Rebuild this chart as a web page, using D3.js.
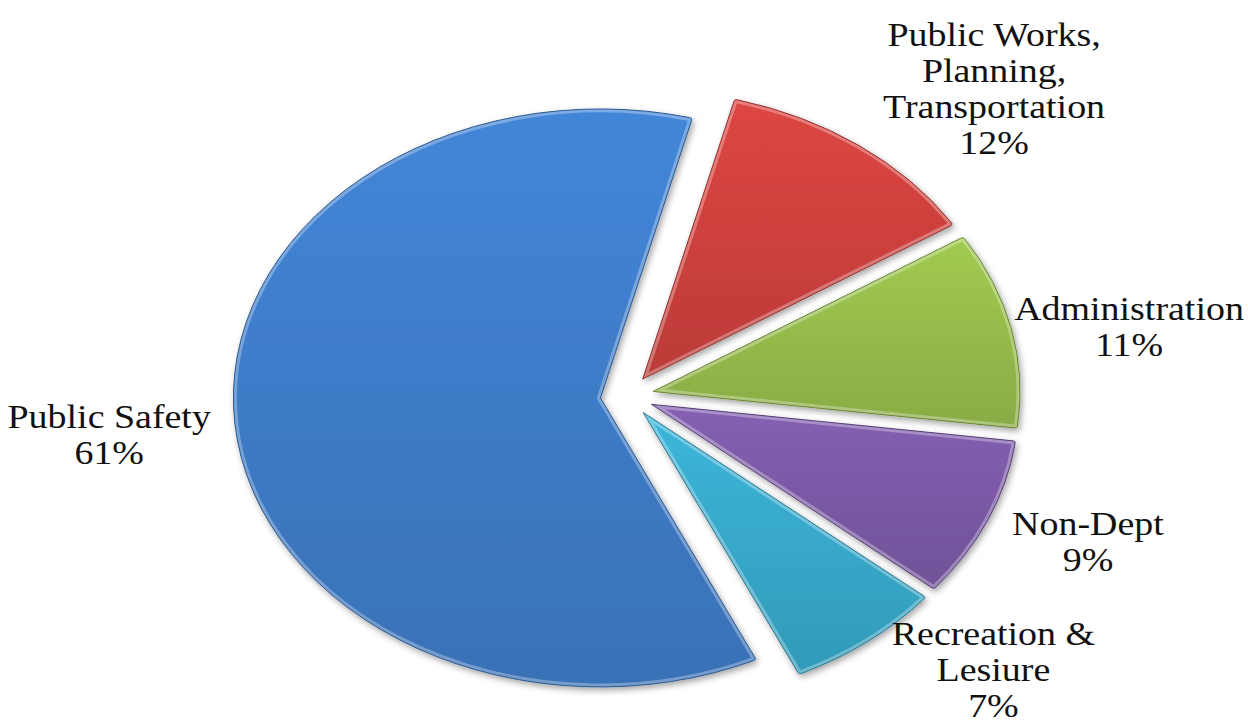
<!DOCTYPE html>
<html>
<head>
<meta charset="utf-8">
<script src="https://cdn.jsdelivr.net/npm/d3@7"></script>
<style>
  html, body { margin: 0; padding: 0; background: #fff; }
  text { font-family: "Liberation Serif", "Times New Roman", serif; fill: #111; }
</style>
</head>
<body>
<div id="chart"></div>
<script>
// chart data, in drawing order (clockwise from the top)
const categories = ["Public Works, Planning, Transportation", "Administration", "Non-Dept", "Recreation & Lesiure", "Public Safety"];
const labelLines = [["Public Works,", "Planning,", "Transportation"], ["Administration"], ["Non-Dept"], ["Recreation &", "Lesiure"], ["Public Safety"]];
const shares = [12, 11, 9, 7, 61];
const sliceColors = ["#d0423e", "#98be4c", "#7d5aa8", "#38abcd", "#3f7ecb"];

const W = 1248, H = 726;
const cx = 627, cy = 396;      // pie centre
const R = 289;                 // vertical radius
const sx = 1.27;               // horizontal stretch of the pie
const explode = 21;
const textStretch = 1.15;
const fontSize = 33, lineH = 36;
const startAngle = 14.5 * Math.PI / 180;

const svg = d3.select("#chart").append("svg")
    .attr("width", W)
    .attr("height", H);

const defs = svg.append("defs");

// soft drop shadow
const shadow = defs.append("filter")
    .attr("id", "shadow")
    .attr("x", "-20%").attr("y", "-20%")
    .attr("width", "140%").attr("height", "140%");
shadow.append("feDropShadow")
    .attr("dx", 2).attr("dy", 3)
    .attr("stdDeviation", 3)
    .attr("flood-color", "#000")
    .attr("flood-opacity", 0.35);

// vertical gradient per slice
sliceColors.forEach(function (c, i) {
  const g = defs.append("linearGradient")
      .attr("id", "grad" + i)
      .attr("x1", 0).attr("y1", 0).attr("x2", 0).attr("y2", 1);
  g.append("stop").attr("offset", "0%").attr("stop-color", d3.color(c).brighter(0.18));
  g.append("stop").attr("offset", "100%").attr("stop-color", d3.color(c).darker(0.3));
});

const pie = d3.pie()
    .sort(null)
    .value(d => d)
    .startAngle(startAngle)
    .endAngle(startAngle + 2 * Math.PI);

const arc = d3.arc()
    .innerRadius(0)
    .outerRadius(R)
    .cornerRadius(2);

const arcs = pie(shares);

const slices = svg.selectAll(".slice")
    .data(arcs)
    .enter()
    .append("g")
    .attr("class", "slice")
    .attr("filter", "url(#shadow)")
    .attr("transform", function (d) {
      const mid = (d.startAngle + d.endAngle) / 2;
      const ox = Math.sin(mid) * explode * sx;
      const oy = -Math.cos(mid) * explode;
      return "translate(" + (cx + ox) + "," + (cy + oy) + ")";
    });

const inner = slices.append("g")
    .attr("transform", "scale(" + sx + ",1)");

inner.append("clipPath")
    .attr("id", (d, i) => "clip" + i)
    .append("path")
    .attr("d", arc);

// body
inner.append("path")
    .attr("d", arc)
    .attr("fill", (d, i) => "url(#grad" + i + ")");

// bevel highlight along the edges
inner.append("path")
    .attr("d", arc)
    .attr("clip-path", (d, i) => "url(#clip" + i + ")")
    .attr("fill", "none")
    .attr("stroke", "#fff")
    .attr("stroke-opacity", 0.3)
    .attr("stroke-width", 7)
    .attr("vector-effect", "non-scaling-stroke");

// dark rim
inner.append("path")
    .attr("d", arc)
    .attr("fill", "none")
    .attr("stroke", (d, i) => d3.color(sliceColors[i]).darker(1))
    .attr("stroke-width", 1)
    .attr("vector-effect", "non-scaling-stroke");

// labels, placed just outside each slice
arcs.forEach(function (d, i) {
  const mid = (d.startAngle + d.endAngle) / 2;
  const lines = labelLines[i].concat([shares[i] + "%"]);

  const lg = svg.append("g");
  const tg = lg.append("g").attr("transform", "scale(" + textStretch + ",1)");
  const n = lines.length;
  lines.forEach(function (t, j) {
    tg.append("text")
        .attr("x", 0)
        .attr("y", (j - (n - 1) / 2) * lineH)
        .attr("dy", "0.35em")
        .attr("text-anchor", "middle")
        .style("font-size", fontSize + "px")
        .text(t);
  });

  const bw = tg.node().getBBox().width * textStretch;
  const bh = n * lineH;

  const ux0 = Math.sin(mid) * sx, uy0 = -Math.cos(mid);
  const len = Math.hypot(ux0, uy0);
  const uy = uy0 / len;

  const px = cx + Math.sin(mid) * (R + explode) * sx;
  const py = cy - Math.cos(mid) * (R + explode);

  const gx = 24, gy = 14;
  let lx = px + Math.sign(ux0) * (bw / 2 + gx);
  let ly = py + uy * (bh / 2 + gy) + 6;
  ly = Math.max(bh / 2, Math.min(H - bh / 2 - 3, ly));
  lx = Math.max(bw / 2 + 4, Math.min(W - bw / 2 - 4, lx));

  lg.attr("transform", "translate(" + lx + "," + ly + ")");
});
</script>
</body>
</html>
